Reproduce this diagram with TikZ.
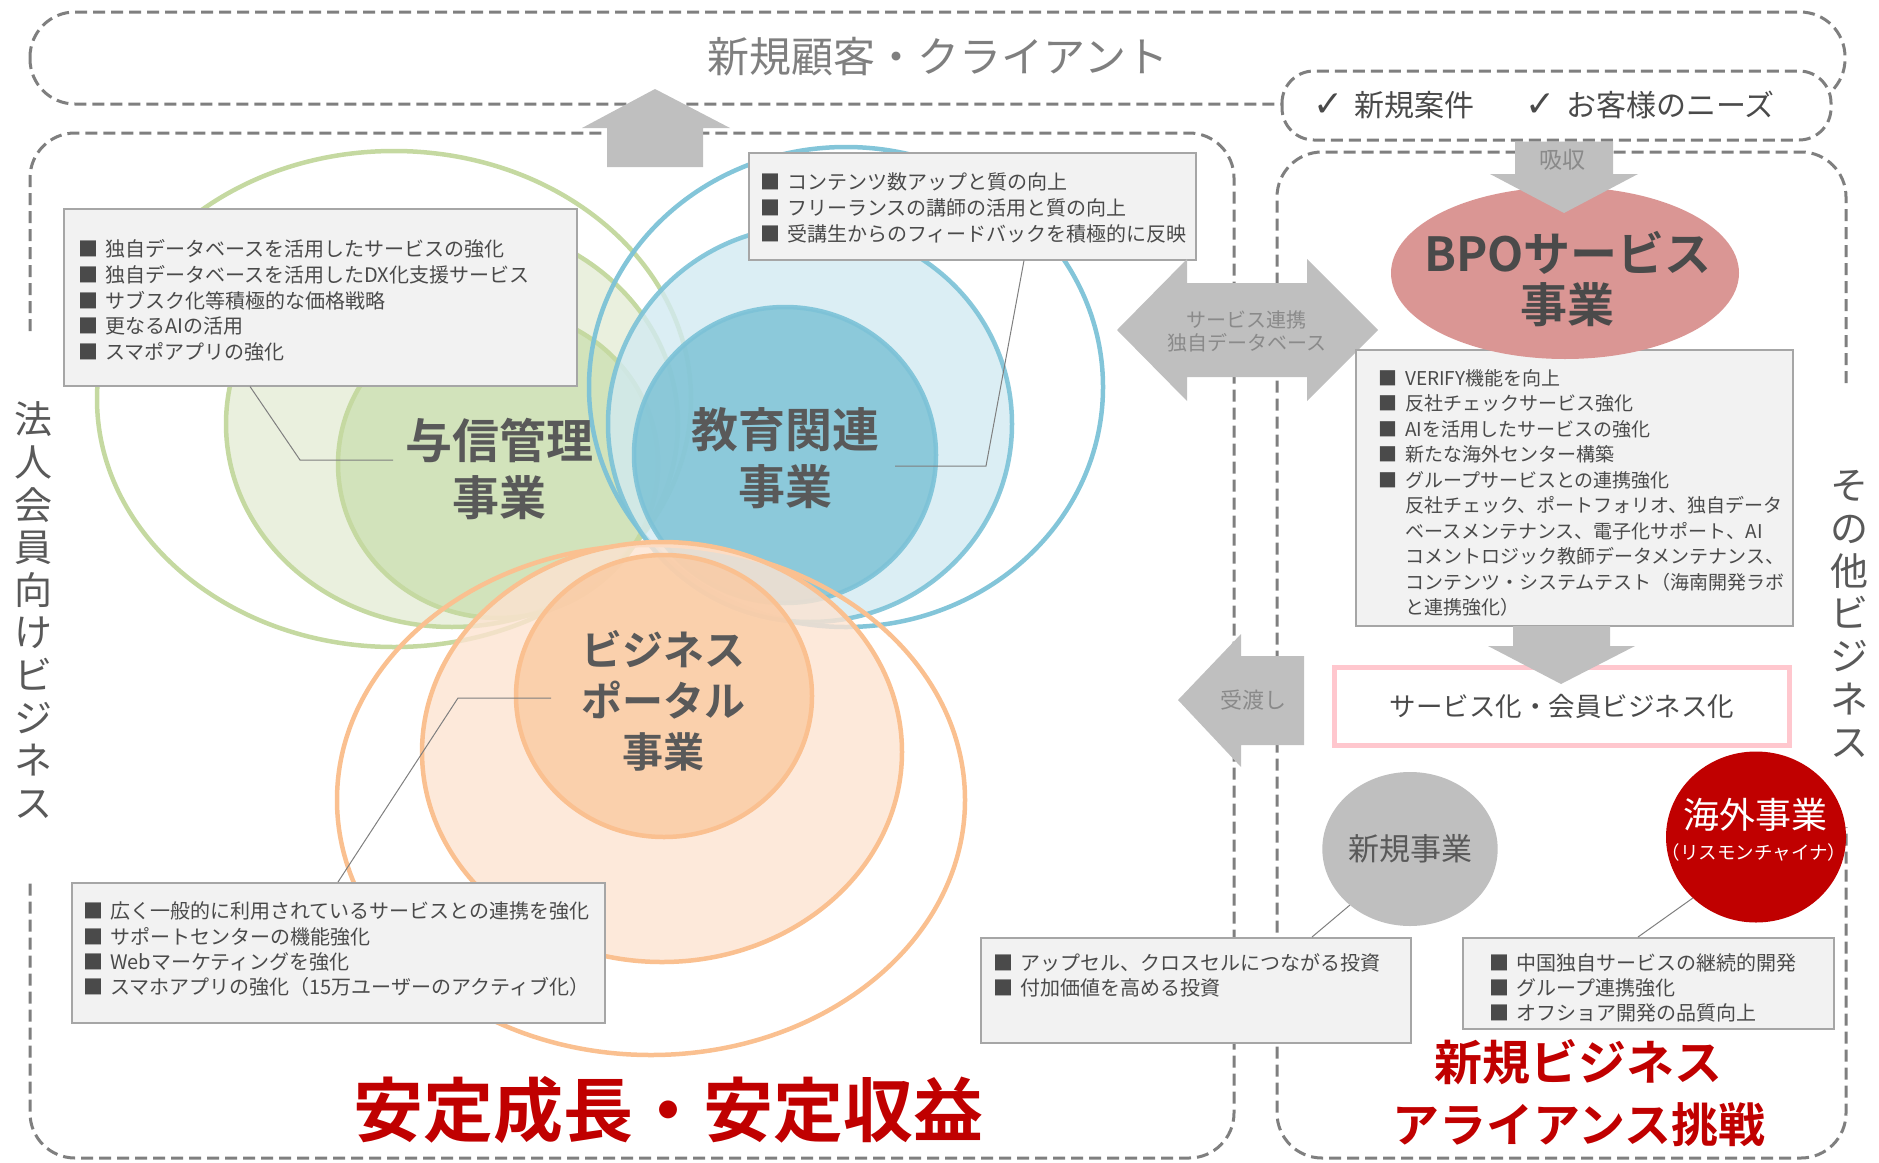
\documentclass[tikz,border=0pt]{standalone}
\usepackage{fontspec}
\setmainfont{Noto Sans CJK JP}[BoldFont={Noto Sans CJK JP Bold}]
\newfontfamily\symfont{DejaVu Sans}
\usetikzlibrary{shapes.geometric,calc}
\newcommand\vs{\rule[-0.12em]{0pt}{1em}}
\definecolor{dashc}{HTML}{7F7F7F}
\definecolor{txt}{HTML}{4A4A4A}
\definecolor{lbl}{HTML}{595959}
\definecolor{ttl}{HTML}{7F7F7F}
\definecolor{arr}{HTML}{BFBFBF}
\definecolor{arrtxt}{HTML}{8A8A8A}
\definecolor{boxfill}{HTML}{F2F2F2}
\definecolor{boxline}{HTML}{A6A6A6}
\definecolor{leadc}{HTML}{7F7F7F}
\definecolor{gline}{HTML}{C5D9A1}
\definecolor{gmid}{HTML}{E5ECD6}
\definecolor{ginner}{HTML}{CCE0B2}
\definecolor{bline}{HTML}{7CC2D7}
\definecolor{bmid}{HTML}{D2EAF1}
\definecolor{binner}{HTML}{78C0D4}
\definecolor{oline}{HTML}{FAC090}
\definecolor{omid}{HTML}{FDE3D1}
\definecolor{oinner}{HTML}{FACAA2}
\definecolor{bpoc}{HTML}{DA9694}
\definecolor{dred}{HTML}{C00000}
\definecolor{pinkc}{HTML}{FFC7CE}
\begin{document}
\begin{tikzpicture}[x=1pt,y=-1pt,
  dashbox/.style={draw=dashc, line width=3pt, dash pattern=on 12pt off 6pt},
  infobox/.style={draw=boxline, line width=1.5pt, fill=boxfill, inner sep=0pt, anchor=north west},
  lt/.style={inner sep=0pt},
  li/.style={lt, anchor=west, font=\fontsize{20}{24}\selectfont, text=txt},
  lid/.style={lt, anchor=west, font=\fontsize{19}{23}\selectfont, text=txt},
  lead/.style={draw=leadc, line width=1pt},
  blockarrow/.style={fill=arr, draw=none},
  biglbl/.style={lt, font=\bfseries\fontsize{47}{57}\selectfont, text=lbl},
  midlbl/.style={lt, font=\bfseries\fontsize{41}{50}\selectfont, text=lbl},
  vch/.style={lt, font=\fontsize{38}{42}\selectfont, text=lbl},
  arrlbl/.style={lt, font=\fontsize{20}{24}\selectfont, text=arrtxt},
  redt/.style={lt, text=dred},
  ring/.style={line width=4.5pt},
]
\useasboundingbox (0,0) rectangle (1879,1162);

% ---------- dashed frames ----------
\draw[dashbox, rounded corners=45pt] (30,12) rectangle (1845,104);
\draw[dashbox, rounded corners=45pt] (30,331) -- (30,133) -- (1234,133) -- (1234,1158) -- (30,1158) -- (30,881);
\draw[dashbox, rounded corners=45pt] (1846,383) -- (1846,152) -- (1277,152) -- (1277,1158) -- (1846,1158) -- (1846,827);
\draw[dashbox, fill=white, rounded corners=32pt] (1282,71) rectangle (1831,140);

\node[lt, font=\fontsize{42}{48}\selectfont, text=ttl] (title) at (938,57) {\vs 新規顧客・クライアント};
\node[lt, anchor=west, font=\fontsize{30}{36}\selectfont, text=txt] (chk1) at (1313,105.5) {\vs{\symfont\fontsize{36}{40}\selectfont ✓}\hspace{11pt}新規案件};
\node[lt, anchor=west, font=\fontsize{30}{36}\selectfont, text=txt] (chk2) at (1525,105.5) {\vs{\symfont\fontsize{36}{40}\selectfont ✓}\hspace{11pt}お客様のニーズ};

% ---------- ellipses ----------
\draw[ring, draw=gline] (394,399) ellipse [x radius=297pt, y radius=248pt];
\path[ring, draw=gline, fill=gmid, fill opacity=0.8] (452,424) ellipse [x radius=226pt, y radius=203pt];
\path[ring, draw=gline, fill=ginner, fill opacity=0.8] (498,464) ellipse [x radius=160pt, y radius=154pt];

\draw[ring, draw=bline, draw opacity=0.95] (846,387) ellipse [x radius=257pt, y radius=240pt];
\path[ring, draw=bline, draw opacity=0.9, fill=bmid, fill opacity=0.8] (810,424) ellipse [x radius=202pt, y radius=198pt];
\path[ring, draw=bline, draw opacity=0.9, fill=binner, fill opacity=0.8] (785,455) ellipse [x radius=151pt, y radius=148pt];

\draw[ring, draw=oline] (651,800) ellipse [x radius=314pt, y radius=255pt];
\path[ring, draw=oline, fill=omid, fill opacity=0.8] (662,752) ellipse [x radius=240pt, y radius=210pt];
\path[ring, draw=oline, fill=oinner, fill opacity=0.8] (664,696) ellipse [x radius=148pt, y radius=141pt];

% ---------- labels on circles ----------
\node[biglbl] (ys1) at (499,441) {\vs 与信管理};
\node[biglbl] (ys2) at (499,498) {\vs 事業};
\node[biglbl] (ed1) at (785,430) {\vs 教育関連};
\node[biglbl] (ed2) at (785,487) {\vs 事業};
\node[midlbl] (bp1) at (663,650) {\vs ビジネス};
\node[midlbl] (bp2) at (663,701) {\vs ポータル};
\node[midlbl] (bp3) at (663,752) {\vs 事業};

% ---------- info boxes (left) ----------
\node[infobox, minimum width=513pt, minimum height=177pt] (boxA) at (63,208) {};
\node[infobox, minimum width=447pt, minimum height=107pt] (boxB) at (748,152) {};
\node[infobox, minimum width=533pt, minimum height=140pt] (boxC) at (71,882) {};

\coordinate (a2) at (300,460);
\coordinate (a3) at (393,460);
\coordinate (b2) at (986,466);
\coordinate (b3) at (895,466);
\coordinate (c2) at (458,698);
\coordinate (c3) at (551,698);
\draw[lead] ($(boxA.south west)+(187,0)$) -- (a2) -- (a3);
\draw[lead] ($(boxB.south west)+(276,0)$) -- (b2) -- (b3);
\draw[lead] ($(boxC.north west)+(267,0)$) -- (c2) -- (c3);

\foreach [count=\i] \itm in {独自データベースを活用したサービスの強化,独自データベースを活用したDX化支援サービス,サブスク化等積極的な価格戦略,更なるAIの活用,スマポアプリの強化}
  \node[li] (A\i) at (78,{249+25.75*(\i-1)}) {\vs■\hspace{7pt}\itm};
\foreach [count=\i] \itm in {コンテンツ数アップと質の向上,フリーランスの講師の活用と質の向上,受講生からのフィードバックを積極的に反映}
  \node[li] (B\i) at (760,{182+26*(\i-1)}) {\vs■\hspace{7pt}\itm};
\foreach [count=\i] \itm in {広く一般的に利用されているサービスとの連携を強化,サポートセンターの機能強化,Webマーケティングを強化,スマホアプリの強化（15万ユーザーのアクティブ化）}
  \node[li] (C\i) at (83,{911+25.4*(\i-1)}) {\vs■\hspace{7pt}\itm};

% ---------- block arrows ----------
\fill[blockarrow] (607,167) -- (607,128) -- (582,128) -- (655,89) -- (730,128) -- (703,128) -- (703,167) -- cycle;
\fill[blockarrow] (1117,330) -- (1187,259) -- (1187,283) -- (1307,283) -- (1307,259) -- (1378,330) -- (1307,401) -- (1307,377) -- (1187,377) -- (1187,401) -- cycle;
\node[arrlbl] (lk1) at (1246,320) {\vs サービス連携};
\node[arrlbl] (lk2) at (1247,343) {\vs 独自データベース};
\fill[blockarrow] (1178,700) -- (1241,634) -- (1241,656) -- (1304,656) -- (1304,745) -- (1241,745) -- (1241,767) -- cycle;
\node[lt, font=\fontsize{22}{26}\selectfont, text=arrtxt] (hand) at (1253,700) {\vs 受渡し};

% ---------- BPO ----------
\node[infobox, minimum width=437pt, minimum height=276pt] (boxD) at (1355,349) {};
\node[ellipse, fill=bpoc, minimum width=348pt, minimum height=172pt, inner sep=0pt] (bpo) at (1565,273) {};
\node[biglbl, text=txt] (bpo1) at (1568,254) {\vs BPOサービス};
\node[biglbl, text=txt] (bpo2) at (1567,305) {\vs 事業};
\fill[blockarrow] (1515,141.5) -- (1613,141.5) -- (1613,174) -- (1638,174) -- (1564,213) -- (1490,174) -- (1515,174) -- cycle;
\node[lt, font=\fontsize{23}{27}\selectfont, text=arrtxt] (abs) at (1562,160) {\vs 吸収};

\foreach [count=\i] \itm in {VERIFY機能を向上,反社チェックサービス強化,AIを活用したサービスの強化,新たな海外センター構築,グループサービスとの連携強化}
  \node[lid] (D\i) at (1378,{378+25.5*(\i-1)}) {\vs■\hspace{8pt}\itm};
\foreach [count=\i] \itm in {反社チェック、ポートフォリオ、独自データ,ベースメンテナンス、電子化サポート、AI,コメントロジック教師データメンテナンス、,コンテンツ・システムテスト（海南開発ラボ,と連携強化）}
  \node[lid] (Dc\i) at (1405,{505.5+25.5*(\i-1)}) {\vs\itm};

% ---------- service box ----------
\node[draw=pinkc, line width=5pt, fill=white, minimum width=455pt, minimum height=78pt, inner sep=0pt,
      font=\fontsize{26.5}{30}\selectfont, text=txt] (svc) at (1562,706.5) {\vs サービス化・会員ビジネス化};
\fill[blockarrow] (1513,626) -- (1610,626) -- (1610,646) -- (1635,646) -- (1561,684) -- (1488,646) -- (1513,646) -- cycle;

% ---------- new business circles ----------
\node[ellipse, fill=arr, minimum width=170pt, minimum height=154pt, inner sep=0pt,
      font=\fontsize{31}{36}\selectfont, text=lbl] (newbiz) at (1410,849) {\vs 新規事業};
\node[ellipse, fill=dred, minimum width=180pt, minimum height=171pt, inner sep=0pt] (oversea) at (1756,837) {};
\node[lt, font=\fontsize{36}{40}\selectfont, text=white] (ov1) at (1755,815) {\vs 海外事業};
\node[lt, font=\fontsize{18.5}{22}\selectfont, text=white] (ov2) at (1754,852) {\vs（リスモンチャイナ）};

\node[infobox, minimum width=430pt, minimum height=105pt] (boxE) at (980,937) {};
\node[infobox, minimum width=371pt, minimum height=91pt] (boxF) at (1462,937) {};
\draw[lead] ($(boxE.north west)+(332,0)$) -- (newbiz.223);
\draw[lead] ($(boxF.north west)+(176,0)$) -- (oversea.224);

\foreach [count=\i] \itm in {アップセル、クロスセルにつながる投資,付加価値を高める投資}
  \node[li] (E\i) at (993,{962.5+25.5*(\i-1)}) {\vs■\hspace{7pt}\itm};
\foreach [count=\i] \itm in {中国独自サービスの継続的開発,グループ連携強化,オフショア開発の品質向上}
  \node[li] (F\i) at (1489,{962.5+25.3*(\i-1)}) {\vs■\hspace{7pt}\itm};

% ---------- side labels ----------
\foreach [count=\i] \ch in {法,人,会,員,向,け,ビ,ジ,ネ,ス}
  \node[vch] (corp\i) at (33,{419.5+42.6*(\i-1)}) {\vs\ch};
\foreach [count=\i] \ch in {そ,の,他,ビ,ジ,ネ,ス}
  \node[vch] (oth\i) at (1849,{485+42.8*(\i-1)}) {\vs\ch};

% ---------- red titles ----------
\node[redt, font=\bfseries\fontsize{70}{80}\selectfont] (stable) at (668,1110) {\vs 安定成長・安定収益};
\node[redt, font=\bfseries\fontsize{48}{56}\selectfont] (nb1) at (1578,1062) {\vs 新規ビジネス};
\node[redt, font=\bfseries\fontsize{47}{56}\selectfont] (nb2) at (1579,1125) {\vs アライアンス挑戦};
\end{tikzpicture}
\end{document}
